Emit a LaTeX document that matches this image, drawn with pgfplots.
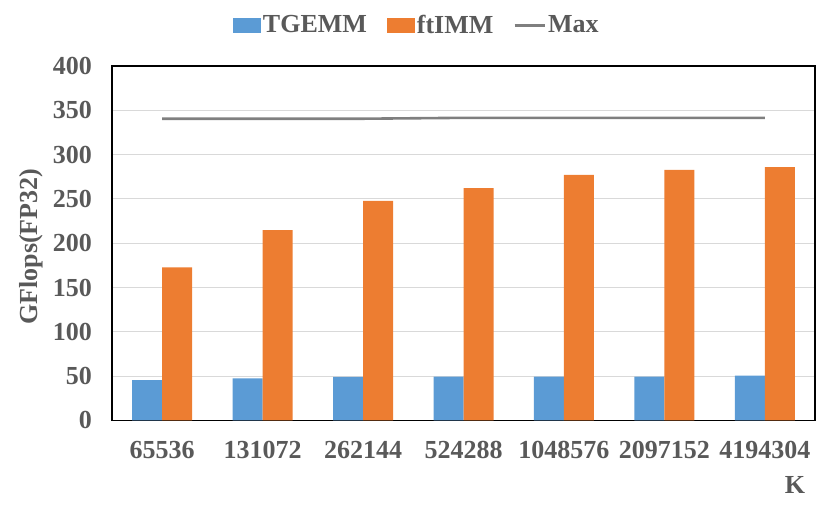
\documentclass[border=0pt]{standalone}
\usepackage{fontspec}
\setmainfont{Liberation Serif}
\usepackage{pgfplots}
\pgfplotsset{compat=1.18}

\definecolor{tgemm}{HTML}{5B9BD5}
\definecolor{ftimm}{HTML}{ED7D31}
\definecolor{maxline}{HTML}{7F7F7F}
\definecolor{txt}{HTML}{595959}
\definecolor{gridc}{HTML}{D9D9D9}

\newcommand{\chartfont}{\fontsize{13}{15}\selectfont\bfseries}

\begin{document}
\begin{tikzpicture}
\begin{axis}[
    scale only axis,
    width=351.5pt,
    height=177.2pt,
    ybar=0pt,
    bar width=15pt,
    xmin=-0.5, xmax=6.5,
    ymin=0, ymax=400,
    ytick={0,50,...,400},
    xtick=data,
    xticklabels={65536,131072,262144,524288,1048576,2097152,4194304},
    major tick length=0pt,
    ymajorgrids,
    grid style={gridc, line width=0.6pt},
    axis line style={black, line width=0.8pt},
    /pgf/number format/assume math mode=true,
    tick label style={font=\chartfont, text=txt},
    xticklabel style={yshift=-7pt},
    yticklabel style={xshift=-6.5pt},
    ylabel={GFlops(FP32)},
    ylabel style={at={(rel axis cs:-0.115,0.49)}, anchor=center, rotate=0, font=\chartfont, text=txt},
    xlabel={K},
    xlabel style={at={(rel axis cs:0.996,-0.182)}, anchor=east, font=\chartfont, text=txt},
    legend columns=3,
    legend style={at={(rel axis cs:0.4335,1.1143)}, anchor=center, draw=none, fill=none,
        font=\chartfont, text=txt, nodes={inner xsep=1pt},
        /tikz/every even column/.append style={column sep=9pt}},
]
\addplot[fill=tgemm, draw=none,
    legend image code/.code={\fill[tgemm] (0pt,-3.75pt) rectangle (14pt,3.75pt);}]
    coordinates {(0,45.5) (1,47.5) (2,49) (3,49.5) (4,49.5) (5,49.5) (6,50.5)};
\addplot[fill=ftimm, draw=none,
    legend image code/.code={\fill[ftimm] (0pt,-3.75pt) rectangle (14pt,3.75pt);}]
    coordinates {(0,172.8) (1,214.7) (2,247.9) (3,262.2) (4,277.2) (5,282.8) (6,285.8)};
\addplot[sharp plot, maxline, line width=1.3pt,
    legend image code/.code={\draw[maxline, line width=1.3pt] (0pt,0pt) -- (15pt,0pt);}]
    coordinates {(0,340.5) (1,340.5) (2,340.5) (3,341.5) (4,341.5) (5,341.5) (6,341.5)};
\legend{TGEMM, ftIMM, Max}
\coordinate (bl) at (rel axis cs:0,0);
\coordinate (tr) at (rel axis cs:1,1);
\end{axis}
\pgfresetboundingbox
\path[use as bounding box] ([xshift=-56pt,yshift=-48.3pt]bl) rectangle ([xshift=7.5pt,yshift=33pt]tr);
\end{tikzpicture}
\end{document}
